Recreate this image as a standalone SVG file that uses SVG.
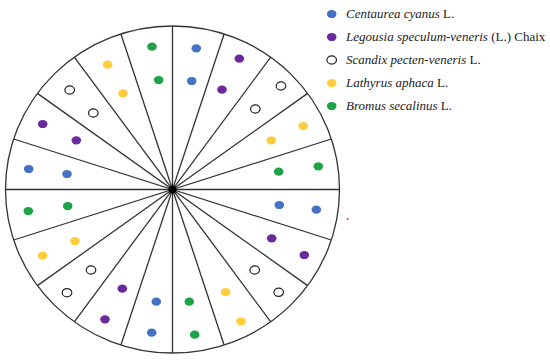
<svg xmlns="http://www.w3.org/2000/svg" width="550" height="360" viewBox="0 0 550 360">
<style>
.spoke{stroke:#333;stroke-width:1.3;fill:none}
.rim{stroke:#333;stroke-width:1.3;fill:#fff}
.b{fill:#4472C4}
.p{fill:#6B2A9C}
.w{fill:#fff;stroke:#222;stroke-width:1.2}
.y{fill:#FFCD3C}
.g{fill:#1FA348}
.lt{font-family:"Liberation Serif","DejaVu Serif",serif;font-size:13px;fill:#222}
.i{font-style:italic}
</style>
<defs>
<ellipse id="d" cx="0" cy="0" rx="4.8" ry="4.1"/>
</defs>
<rect width="550" height="360" fill="#fff"/>
<g id="wheel">
<ellipse class="rim" cx="172.5" cy="189.5" rx="167" ry="163.5"/>
</g>
<g id="connectors" class="spoke" transform="translate(172.5 189.5) scale(1 0.979)">
<line x1="0" y1="-167" x2="0" y2="167"/>
<line x1="51.6" y1="-158.8" x2="-51.6" y2="158.8"/>
<line x1="98.2" y1="-135.1" x2="-98.2" y2="135.1"/>
<line x1="135.1" y1="-98.2" x2="-135.1" y2="98.2"/>
<line x1="158.8" y1="-51.6" x2="-158.8" y2="51.6"/>
<line x1="167" y1="0" x2="-167" y2="0"/>
<line x1="158.8" y1="51.6" x2="-158.8" y2="-51.6"/>
<line x1="135.1" y1="98.2" x2="-135.1" y2="-98.2"/>
<line x1="98.2" y1="135.1" x2="-98.2" y2="-135.1"/>
<line x1="51.6" y1="158.8" x2="-51.6" y2="-158.8"/>
</g>
<g id="hub"><circle cx="172.5" cy="189.5" r="4" fill="#000"/></g>
<g id="dots">
<use href="#d" class="b" x="196.3" y="48.3"/><use href="#d" class="b" x="191.7" y="81"/>
<use href="#d" class="p" x="239.3" y="58.7"/><use href="#d" class="p" x="222" y="89.7"/>
<use href="#d" class="w" x="281" y="86"/><use href="#d" class="w" x="255.3" y="109"/>
<use href="#d" class="y" x="303.3" y="126"/><use href="#d" class="y" x="271.3" y="140.3"/>
<use href="#d" class="g" x="318.3" y="166.3"/><use href="#d" class="g" x="278.7" y="171.7"/>
<use href="#d" class="b" x="279.3" y="205"/><use href="#d" class="b" x="316.3" y="209.7"/>
<use href="#d" class="p" x="271.7" y="238.3"/><use href="#d" class="p" x="304.3" y="255"/>
<use href="#d" class="w" x="254.7" y="270"/><use href="#d" class="w" x="278.7" y="292.3"/>
<use href="#d" class="y" x="225.7" y="292"/><use href="#d" class="y" x="241" y="321.3"/>
<use href="#d" class="g" x="189.3" y="301.7"/><use href="#d" class="g" x="194.7" y="334.7"/>
<use href="#d" class="b" x="156.3" y="301.7"/><use href="#d" class="b" x="151.7" y="332.7"/>
<use href="#d" class="p" x="122.3" y="288.7"/><use href="#d" class="p" x="105" y="319.3"/>
<use href="#d" class="w" x="91" y="270"/><use href="#d" class="w" x="67" y="292.7"/>
<use href="#d" class="y" x="75" y="241"/><use href="#d" class="y" x="42.7" y="255.7"/>
<use href="#d" class="g" x="67.7" y="206"/><use href="#d" class="g" x="28.3" y="211"/>
<use href="#d" class="b" x="28.7" y="169"/><use href="#d" class="b" x="67" y="174"/>
<use href="#d" class="p" x="42.7" y="124"/><use href="#d" class="p" x="76.3" y="140.3"/>
<use href="#d" class="w" x="69.7" y="90"/><use href="#d" class="w" x="93.3" y="113"/>
<use href="#d" class="y" x="107.7" y="64.7"/><use href="#d" class="y" x="123" y="93.3"/>
<use href="#d" class="g" x="152" y="46.7"/><use href="#d" class="g" x="158.7" y="80"/>
</g>
<g id="legend">
<g id="leg-centaurea"><use href="#d" class="b" x="331.7" y="14"/><text class="lt" x="346" y="18"><tspan class="i">Centaurea cyanus</tspan> L.</text></g>
<g id="leg-legousia"><use href="#d" class="p" x="331.7" y="37"/><text class="lt" x="346" y="41"><tspan class="i">Legousia speculum-veneris</tspan> (L.) Chaix</text></g>
<g id="leg-scandix"><use href="#d" class="w" x="331.7" y="60"/><text class="lt" x="346" y="64"><tspan class="i">Scandix pecten-veneris</tspan> L.</text></g>
<g id="leg-lathyrus"><use href="#d" class="y" x="331.7" y="83"/><text class="lt" x="346" y="87"><tspan class="i">Lathyrus aphaca</tspan> L.</text></g>
<g id="leg-bromus"><use href="#d" class="g" x="331.7" y="106"/><text class="lt" x="346" y="110"><tspan class="i">Bromus secalinus</tspan> L.</text></g>
</g>
<circle cx="347.7" cy="219" r="1" fill="#e33"/>
</svg>
